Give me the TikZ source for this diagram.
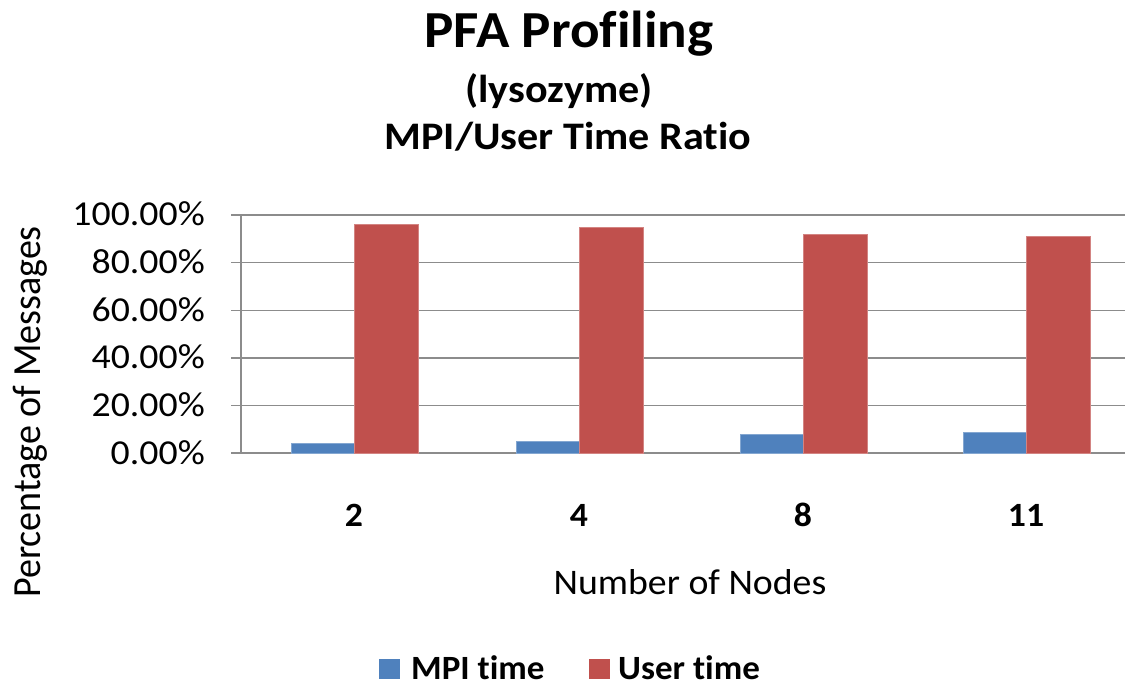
\documentclass[tikz,border=0pt]{standalone}
\usepackage{fontspec}
\setmainfont{Carlito}[Ligatures=NoCommon]
\definecolor{mpiblue}{HTML}{4F81BD}
\definecolor{userred}{HTML}{C0504D}
\definecolor{gridgray}{HTML}{8C8C8C}
\begin{document}
\begin{tikzpicture}[x=1pt,y=-1pt,
  txt/.style={inner sep=0pt, font=\fontsize{#1}{#1}\selectfont},
  btxt/.style={inner sep=0pt, font=\fontsize{#1}{#1}\selectfont\bfseries},
  gridline/.style={draw=gridgray, line width=1.4pt},
  mpibar/.style={fill=mpiblue, draw=mpiblue!70!white, line width=0.6pt},
  userbar/.style={fill=userred, draw=userred!70!white, line width=0.6pt}]
\useasboundingbox (0,0) rectangle (1125,687);

% title
\node[btxt=52, anchor=base, xscale=1.06] (title) at (569,48) {PFA Profiling};
\node[btxt=39, anchor=base, xscale=1.08] (sub1) at (559,103) {(lysozyme)};
\node[btxt=39, anchor=base, xscale=1.08] (sub2) at (568,150) {MPI/User Time Ratio};

% horizontal grid and value labels (0% at y=453, 20% per 47.6)
\foreach \v [count=\i from 0] in {0.00\%,20.00\%,40.00\%,60.00\%,80.00\%,100.00\%}{
  \pgfmathsetmacro{\gy}{453-47.6*\i}
  \draw[gridline] (231,\gy) -- (1125,\gy);
  \node[txt=35, anchor=base east, xscale=1.08] (tick\i) at (205,\gy+11) {\v};
}
% value axis
\draw[gridline] (241,215) -- (241,453);

% bars: value v maps to height 2.38*v
\foreach \c/\m/\u/\lab [count=\k] in {354/4.2/96.2/2, 579/5.0/95.0/4, 803/8.0/92.0/8, 1026/8.8/91.2/11}{
  \fill[mpibar] (\c-63,453) rectangle (\c,453-2.38*\m);
  \fill[userbar] (\c,453) rectangle (\c+64,453-2.38*\u);
  \node[btxt=34, anchor=base, xscale=1.05] (cat\k) at (\c,526) {\lab};
}

% axis titles
\node[txt=36, anchor=base, xscale=1.05] (xtitle) at (690,594) {Number of Nodes};
\node[txt=38, rotate=90, anchor=base, yscale=1.05] (ytitle) at (40,412) {Percentage of Messages};

% legend
\fill[mpiblue] (379,659) rectangle (400,679);
\node[btxt=34, anchor=base west, xscale=1.03] (legmpi) at (411,679) {MPI time};
\fill[userred] (589,659) rectangle (610,679);
\node[btxt=34, anchor=base west, xscale=1.03] (leguser) at (618,679) {User time};
\end{tikzpicture}
\end{document}
